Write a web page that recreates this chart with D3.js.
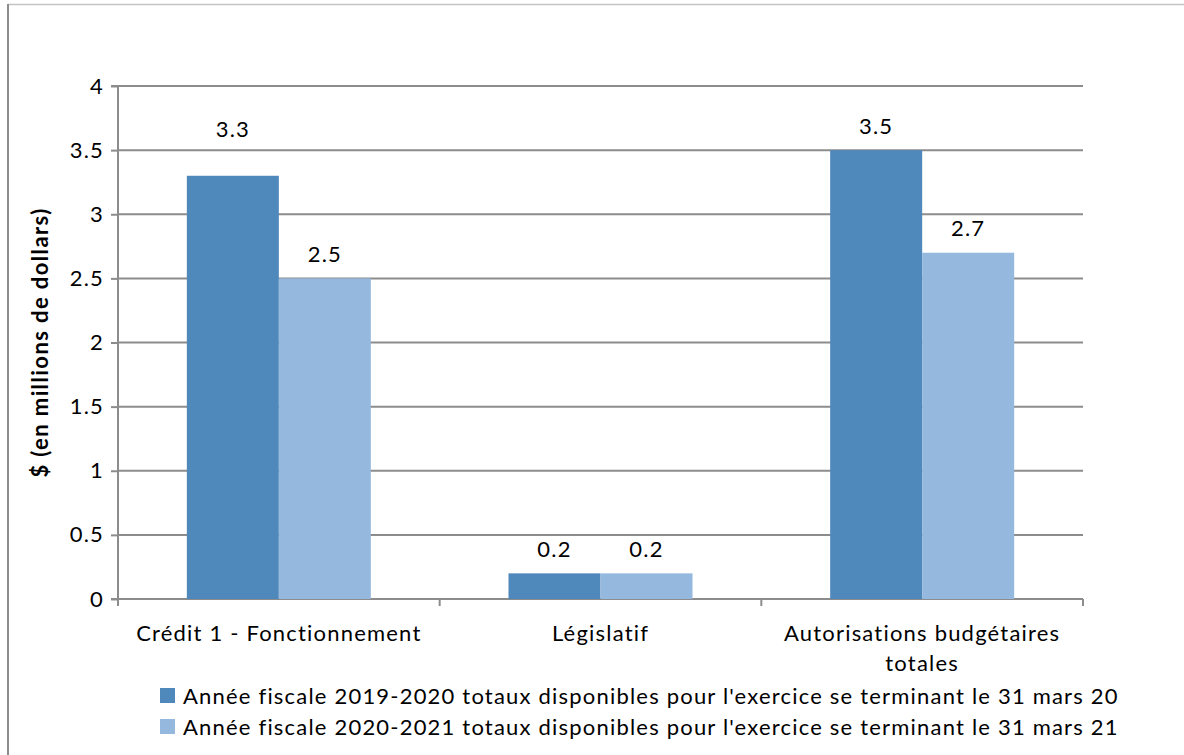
<!DOCTYPE html>
<html><head><meta charset="utf-8">
<script src="https://d3js.org/d3.v7.min.js"></script>
<style>
body{margin:0;background:#fff;}
svg text{font-family:Lato, "Open Sans", sans-serif;fill:#000;letter-spacing:1.2px;}
</style></head>
<body><svg id="c" width="1184" height="755"></svg>
<script>
const categories = [["Crédit 1 - Fonctionnement"], ["Législatif"], ["Autorisations budgétaires", "totales"]];
const seriesNames = [
  "Année fiscale 2019-2020 totaux disponibles pour l'exercice se terminant le 31 mars 20",
  "Année fiscale 2020-2021 totaux disponibles pour l'exercice se terminant le 31 mars 21"
];
const series2019 = [3.3, 0.2, 3.5];
const series2020 = [2.5, 0.2, 2.7];
const yTicks = [0, 0.5, 1, 1.5, 2, 2.5, 3, 3.5, 4];
const yTitle = "$ (en millions de dollars)";
const colors = ["#4F88BB", "#95B8DF"];

const svg = d3.select("#c");
const fs = 22;
// outer frame
svg.append("line").attr("x1",8).attr("x2",1184).attr("y1",4.5).attr("y2",4.5).attr("stroke","#c4c4c4").attr("stroke-width",1.5);
svg.append("line").attr("x1",8).attr("x2",8).attr("y1",4).attr("y2",755).attr("stroke","#8c8c8c").attr("stroke-width",2);

const m = {l:118, r:1083, t:86, b:599};
const y = d3.scaleLinear().domain([0,4]).range([m.b, m.t]);
const x0 = d3.scaleBand().domain(d3.range(categories.length)).range([m.l, m.r]).paddingInner(0).paddingOuter(0);
const barW = 92;
const x1 = d3.scaleBand().domain([0,1]).range([0, barW*2]);

// gridlines
svg.append("g").selectAll("line").data(yTicks.filter(d=>d>0)).join("line")
  .attr("x1", m.l).attr("x2", m.r).attr("y1", d=>y(d)).attr("y2", d=>y(d))
  .attr("stroke","#8c8c8c").attr("stroke-width",2);

// y axis
const yAxis = d3.axisLeft(y).tickValues(yTicks).tickSize(7).tickPadding(6).tickFormat(d=>String(d));
const gy = svg.append("g").attr("transform",`translate(${m.l},0)`).call(yAxis);
gy.select(".domain").attr("stroke","#8c8c8c").attr("stroke-width",2).attr("d",`M-7,${m.b}H0V${m.t}H-7`);
gy.selectAll(".tick line").attr("stroke","#8c8c8c").attr("stroke-width",2);
gy.selectAll(".tick text").attr("font-size",fs).attr("font-family","Lato, sans-serif").attr("fill","#000").attr("dx",-1);

// x axis
svg.append("line").attr("x1",m.l).attr("x2",m.r).attr("y1",m.b).attr("y2",m.b).attr("stroke","#8c8c8c").attr("stroke-width",2);
const xt = d3.range(categories.length+1).map(i => m.l + i*x0.bandwidth());
svg.append("g").selectAll("line").data(xt).join("line")
  .attr("x1",d=>d).attr("x2",d=>d).attr("y1",m.b).attr("y2",m.b+7).attr("stroke","#8c8c8c").attr("stroke-width",2);

// bars
const data = categories.map((c,i)=>({i, vals:[series2019[i], series2020[i]]}));
const groups = svg.append("g").selectAll("g").data(data).join("g")
  .attr("transform", d=>`translate(${x0(d.i) + x0.bandwidth()/2 - barW},0)`);
groups.selectAll("rect").data(d=>d.vals.map((v,k)=>({v,k}))).join("rect")
  .attr("x", d=>x1(d.k)).attr("width", x1.bandwidth())
  .attr("y", d=>y(d.v)).attr("height", d=>y(0)-y(d.v)).attr("fill", d=>colors[d.k]);

// labels (shift above gridline if overlapping)
const tickYs = yTicks.map(t=>y(t));
groups.selectAll("text").data(d=>d.vals.map((v,k)=>({v,k}))).join("text")
  .attr("x", d=>x1(d.k)+x1.bandwidth()/2)
  .attr("y", d=>{
    let cy = y(d.v) - 24;
    const hit = tickYs.find(t => Math.abs(t - cy) < 11);
    if (hit !== undefined) cy = hit - 21;
    return cy;
  })
  .attr("dy","0.35em").attr("text-anchor","middle").attr("font-size",fs)
  .text(d=>d.v);

// category labels
const cl = svg.append("g").selectAll("text").data(categories).join("text")
  .attr("x",(d,i)=>x0(i)+x0.bandwidth()/2).attr("y",641)
  .attr("text-anchor","middle").attr("font-size",fs);
cl.selectAll("tspan").data(d=>d).join("tspan")
  .attr("x", function(){return this.parentNode.getAttribute("x");})
  .attr("dy",(d,i)=>i===0?0:30).text(d=>d);

// y title
svg.append("text").attr("transform",`translate(48,${(m.t+m.b)/2}) rotate(-90)`)
  .attr("text-anchor","middle").attr("font-size",fs).attr("font-weight","bold")
  .style("letter-spacing","1.4px").text(yTitle);

// legend
const lg = svg.append("g").selectAll("g").data(seriesNames).join("g")
  .attr("transform",(d,i)=>`translate(160,${688 + i*31})`);
lg.append("rect").attr("width",15).attr("height",15).attr("fill",(d,i)=>colors[i]);
lg.append("text").attr("x",23).attr("y",8).attr("dy","0.35em").attr("font-size",fs).text(d=>d);
</script></body></html>
